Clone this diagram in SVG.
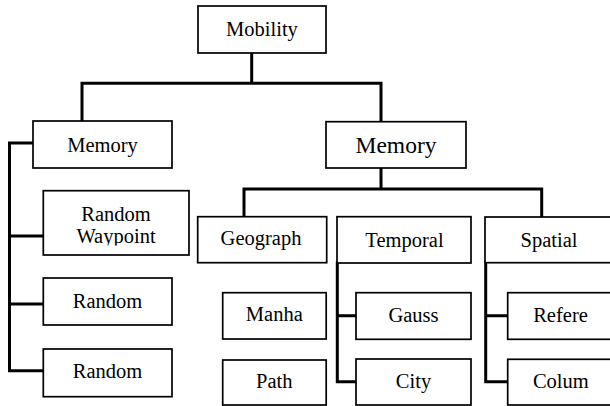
<svg xmlns="http://www.w3.org/2000/svg" width="610" height="406" viewBox="0 0 610 406">
<style>
.box{fill:#fff;stroke:#000;stroke-width:1.7}
text{font-family:"Times New Roman","Liberation Serif","DejaVu Serif",serif;font-size:20.5px;fill:#000;text-anchor:middle}
.big{font-size:23.5px}
.c{fill:none;stroke:#000;stroke-width:3;stroke-linejoin:miter;stroke-linecap:square}
</style>
<defs>
<clipPath id="clipRW"><rect x="43" y="190" width="146" height="55.5"/></clipPath>
</defs>
<rect width="610" height="406" fill="#fff"/>
<g id="connectors">
<path class="c" d="M251.7,53 V83.3 M82,121 V83.3 H381 V121.5"/>
<path class="c" d="M33,143 H9.5 V370.7 H43 M9.5,236 H43 M9.5,304 H43"/>
<path class="c" d="M381,168 V189 M244,216.7 V189 H541.7 V217"/>
<path class="c" d="M337.3,263 V381.7 H356 M337.3,315.7 H356"/>
<path class="c" d="M485.7,263 V381.7 H507.7 M485.7,315.7 H507.7"/>
</g>
<g id="mobility"><rect class="box" x="198" y="6" width="128" height="47"/><text x="262" y="36">Mobility</text></g>
<g id="memory-left"><rect class="box" x="33" y="121" width="139" height="47"/><text x="102.5" y="151.7">Memory</text></g>
<g id="memory-right"><rect class="box" x="326" y="121.7" width="140" height="46.3"/><text class="big" x="396" y="153.3">Memory</text></g>
<g id="random-waypoint"><rect class="box" x="43.3" y="190.7" width="145.7" height="64.3"/><g clip-path="url(#clipRW)"><text x="116" y="220.7">Random</text><text x="116" y="243.3">Waypoint</text></g></g>
<g id="random1"><rect class="box" x="43.3" y="278" width="128.7" height="47"/><text x="107.5" y="308">Random</text></g>
<g id="random2"><rect class="box" x="43.3" y="349" width="128.7" height="47.7"/><text x="107.5" y="378">Random</text></g>
<g id="geograph"><rect class="box" x="197.7" y="216.7" width="129" height="46"/><text x="261" y="245">Geograph</text></g>
<g id="temporal"><rect class="box" x="337" y="216.7" width="134" height="46.3"/><text x="404.5" y="246.7">Temporal</text></g>
<g id="spatial"><rect class="box" x="485" y="217" width="128" height="45.7"/><text x="549" y="246.7">Spatial</text></g>
<g id="manha"><rect class="box" x="222.7" y="292.7" width="103.5" height="46.3"/><text x="274.3" y="320.5">Manha</text></g>
<g id="path"><rect class="box" x="222.7" y="360" width="103.5" height="45"/><text x="274.3" y="388">Path</text></g>
<g id="gauss"><rect class="box" x="356" y="292.7" width="115" height="46.6"/><text x="413.5" y="322">Gauss</text></g>
<g id="city"><rect class="box" x="356" y="359" width="115" height="46"/><text x="413.5" y="388">City</text></g>
<g id="refere"><rect class="box" x="507.7" y="292.7" width="106" height="46.6"/><text x="560.5" y="321.7">Refere</text></g>
<g id="colum"><rect class="box" x="507.7" y="359.3" width="106" height="45.7"/><text x="560.8" y="388">Colum</text></g>
</svg>
